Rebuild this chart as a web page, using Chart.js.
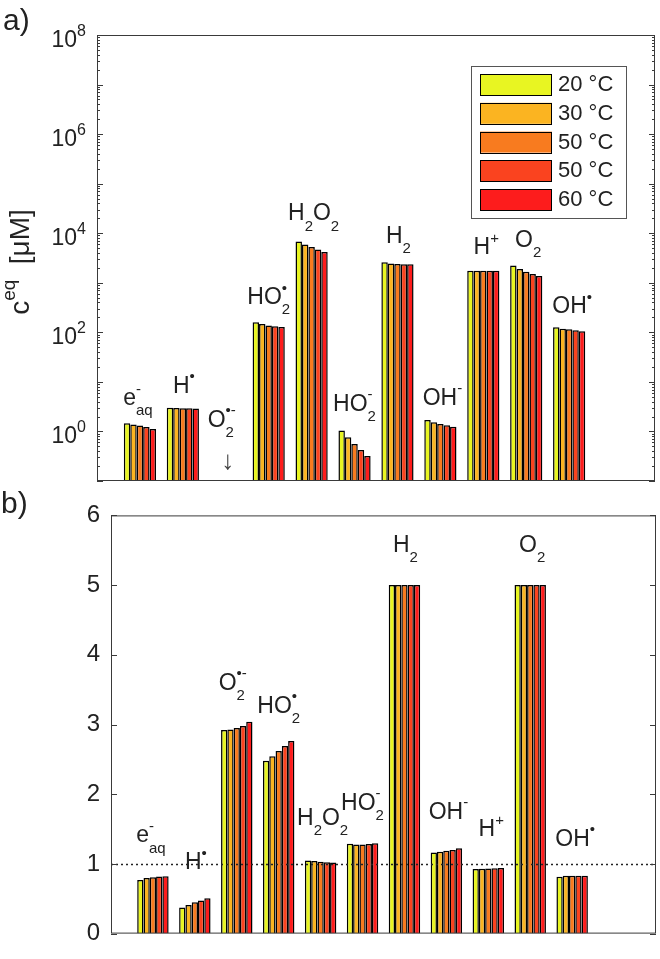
<!DOCTYPE html>
<html>
<head>
<meta charset="utf-8">
<script src="https://cdn.jsdelivr.net/npm/chart.js@4.4.1/dist/chart.umd.min.js"></script>
<style>
  body { margin: 0; background: #fff; }
  #wrap { position: relative; width: 660px; height: 959px; }
  canvas { position: absolute; left: 0; }
</style>
</head>
<body>
<div id="wrap">
  <canvas id="chartA" width="660" height="490" style="top:0"></canvas>
  <canvas id="chartB" width="660" height="469" style="top:490px"></canvas>
</div>
<script>
// species (x categories) and temperature series
const species = ["e-aq", "H•", "O2•-", "HO2•", "H2O2", "HO2-", "H2", "OH-", "H+", "O2", "OH•"];
const temps = ["20 °C", "30 °C", "50 °C", "50 °C", "60 °C"];
const colors = ["#e8f522", "#fbb421", "#f87b1f", "#fa431f", "#fd1c1c"];

// a) equilibrium concentration [uM], O2•- is below the axis
const conc20  = [1.47, 3.00, null, 160, 6840, 1.04, 2610, 1.71, 1750, 2240, 126];
const conc30  = [1.38, 2.97, null, 147, 5940, 0.76, 2460, 1.53, 1750, 1890, 118];
const conc50  = [1.32, 2.95, null, 138, 5250, 0.56, 2380, 1.42, 1750, 1670, 115];
const conc50b = [1.23, 2.93, null, 132, 4710, 0.42, 2370, 1.33, 1750, 1500, 110];
const conc60  = [1.12, 2.90, null, 128, 4160, 0.32, 2370, 1.25, 1750, 1365, 105];

// b) ratio c(5 bar) / c(1 bar)
const ratio20  = [0.77, 0.376, 2.92, 2.48, 1.05, 1.29, 5, 1.165, 0.928, 5, 0.816];
const ratio30  = [0.797, 0.41, 2.93, 2.545, 1.04, 1.28, 5, 1.175, 0.932, 5, 0.83];
const ratio50  = [0.81, 0.45, 2.95, 2.62, 1.03, 1.28, 5, 1.19, 0.935, 5, 0.83];
const ratio50b = [0.82, 0.475, 2.98, 2.69, 1.025, 1.285, 5, 1.20, 0.938, 5, 0.83];
const ratio60  = [0.824, 0.506, 3.04, 2.765, 1.02, 1.295, 5, 1.225, 0.94, 5, 0.83];

// tick labels
const expTicksA = [0, 2, 4, 6, 8];

// species label formatting: [text, subscript, superscript]
const speciesRich = [
  [["e", "aq", "-"]],
  [["H", "", "•"]],
  [["O", "2", "•-"]],
  [["HO", "2", "•"]],
  [["H", "2", ""], ["O", "2", ""]],
  [["HO", "2", "-"]],
  [["H", "2", ""]],
  [["OH", "", "-"]],
  [["H", "", "+"]],
  [["O", "2", ""]],
  [["OH", "", "•"]]
];
// label anchor heights (axis units) and small horizontal shifts
const labelYA = [3.4, 5.97, 1.25, 372, 18300, 2.6, 6400, 3.42, 3800, 5320, 245];
const labelYB = [1.31, 0.92, 3.5, 3.17, 1.56, 1.78, 5.48, 1.65, 1.40, 5.48, 1.26];
const labelDx = [-2, 1, -4, 0, 2, 0, 1, 2, 3, 2, 3];

const FONT = '"Liberation Sans", Arial, sans-serif';
const TXT = '#222';

function drawRich(ctx, parts, x, y, size, align, small) {
  small = small || Math.round(size * 0.68);
  const mf = size + 'px ' + FONT, sf = small + 'px ' + FONT;
  const w = parts.map(p => {
    ctx.font = mf; const a = ctx.measureText(p[0]).width;
    ctx.font = sf; const b = Math.max(ctx.measureText(p[1]).width, ctx.measureText(p[2]).width);
    return [a, b];
  });
  const total = w.reduce((s, v) => s + v[0] + v[1], 0);
  let cx = align === 'center' ? x - total / 2 : align === 'right' ? x - total : x;
  ctx.textAlign = 'left';
  ctx.textBaseline = 'alphabetic';
  parts.forEach((p, i) => {
    ctx.font = mf; ctx.fillText(p[0], cx, y); cx += w[i][0];
    ctx.font = sf;
    if (p[1]) ctx.fillText(p[1], cx, y + size * 0.45);
    if (p[2]) ctx.fillText(p[2], cx, y - size * 0.5);
    cx += w[i][1];
  });
}

function hline(ctx, x1, x2, y) {
  ctx.beginPath(); ctx.moveTo(x1, y); ctx.lineTo(x2, y); ctx.stroke();
}

function makeSets(series) {
  return series.map((vals, s) => ({
    label: temps[s],
    data: vals.map((v, i) => ({x: i + 1, y: v})),
    backgroundColor: colors[s],
    borderColor: '#000',
    borderWidth: 1.5,
    categoryPercentage: 0.75,
    barPercentage: 1.0
  }));
}

const panelA = {
  id: 'panelA',
  afterDatasetsDraw(chart) {
    const {ctx, chartArea: a, scales: {x, y}} = chart;
    ctx.save();
    ctx.strokeStyle = '#3a3a3a';
    ctx.lineWidth = 1;
    ctx.strokeRect(a.left + 0.5, a.top + 0.5, a.right - a.left - 1, a.bottom - a.top - 1);
    // inward log ticks on both sides
    for (let e = -1; e <= 8; e++) {
      for (let m = 1; m <= 9; m++) {
        const v = m * Math.pow(10, e);
        if (v < y.min * 0.999 || v > y.max * 1.001) continue;
        const py = Math.round(y.getPixelForValue(v)) + 0.5;
        const len = m === 1 ? 6 : 3;
        hline(ctx, a.left, a.left + len, py);
        hline(ctx, a.right - len, a.right, py);
      }
    }
    ctx.fillStyle = TXT;
    expTicksA.forEach(e => {
      const py = y.getPixelForValue(Math.pow(10, e));
      drawRich(ctx, [["10", "", String(e)]], a.left - 11, py + 12, 23, 'right', 16);
    });
    // species labels
    species.forEach((s, i) => {
      drawRich(ctx, speciesRich[i], x.getPixelForValue(i + 1) + labelDx[i], y.getPixelForValue(labelYA[i]), 23, 'center', 15);
    });
    // arrow for O2•- (below axis range)
    ctx.font = '26px ' + FONT;
    ctx.textAlign = 'center';
    ctx.textBaseline = 'middle';
    ctx.fillStyle = '#444';
    ctx.fillText('↓', x.getPixelForValue(3) + 2, y.getPixelForValue(0.243));
    // legend
    const lx = 471, ly = 66;
    ctx.fillStyle = '#fff';
    ctx.fillRect(lx, ly, 155, 152);
    ctx.strokeStyle = '#555';
    ctx.strokeRect(lx + 0.5, ly + 0.5, 155, 152);
    chart.data.datasets.forEach((ds, i) => {
      const ty = 74 + i * 28.8;
      ctx.fillStyle = ds.backgroundColor;
      ctx.fillRect(480, ty, 72, 21);
      ctx.strokeStyle = '#000';
      ctx.strokeRect(480.5, Math.round(ty) + 0.5, 71, 21);
      ctx.fillStyle = TXT;
      ctx.font = '22px ' + FONT;
      ctx.textAlign = 'left';
      ctx.textBaseline = 'middle';
      ctx.fillText(ds.label, 558, ty + 11);
    });
    // panel tag and y title
    ctx.fillStyle = TXT;
    ctx.font = '30px ' + FONT;
    ctx.textAlign = 'left';
    ctx.textBaseline = 'alphabetic';
    ctx.fillText('a)', 3, 30);
    ctx.translate(29, 262);
    ctx.rotate(-Math.PI / 2);
    drawRich(ctx, [["c", "", "eq"], ["  [μM]", "", ""]], 0, 0, 28, 'center', 19);
    ctx.restore();
  }
};

const panelB = {
  id: 'panelB',
  afterDatasetsDraw(chart) {
    const {ctx, chartArea: a, scales: {x, y}} = chart;
    ctx.save();
    // reference line at ratio 1
    ctx.strokeStyle = '#222';
    ctx.lineWidth = 1.4;
    ctx.setLineDash([2, 3]);
    hline(ctx, a.left, a.right, Math.round(y.getPixelForValue(1)) + 0.5);
    ctx.setLineDash([]);
    ctx.lineWidth = 1;
    ctx.strokeStyle = '#3a3a3a';
    ctx.strokeRect(a.left + 0.5, a.top + 0.5, a.right - a.left - 1, a.bottom - a.top - 1);
    y.ticks.forEach(t => {
      const py = Math.round(y.getPixelForValue(t.value)) + 0.5;
      hline(ctx, a.left, a.left + 6, py);
      hline(ctx, a.right - 6, a.right, py);
    });
    ctx.fillStyle = TXT;
    species.forEach((s, i) => {
      drawRich(ctx, speciesRich[i], x.getPixelForValue(i + 1) + labelDx[i], y.getPixelForValue(labelYB[i]), 23, 'center', 15);
    });
    ctx.font = '30px ' + FONT;
    ctx.textAlign = 'left';
    ctx.textBaseline = 'alphabetic';
    ctx.fillText('b)', 1, 23);
    // fraction y title
    ctx.translate(0, 722);
    ctx.rotate(-Math.PI / 2);
    ctx.save();
    ctx.translate(0, 30);
    drawRich(ctx, [["c", "", "eq"], ["(5 bar)", "", ""]], 0, 0, 30, 'center', 19);
    ctx.restore();
    ctx.save();
    ctx.translate(0, 67);
    drawRich(ctx, [["c", "", "eq"], ["(1 bar)", "", ""]], 0, 0, 30, 'center', 19);
    ctx.restore();
    ctx.strokeStyle = '#222';
    ctx.lineWidth = 1.5;
    hline(ctx, -70, 70, 39);
    ctx.restore();
  }
};

const configA = {
  type: 'bar',
  data: {datasets: makeSets([conc20, conc30, conc50, conc50b, conc60])},
  options: {
    responsive: false, animation: false, devicePixelRatio: 1,
    layout: {padding: {left: 0, top: 35, right: 5, bottom: 9}},
    plugins: {legend: {display: false}, tooltip: {enabled: false}},
    scales: {
      x: {type: 'linear', min: 0, max: 13, offset: false, display: false, ticks: {stepSize: 1}},
      y: {
        type: 'logarithmic', min: 0.1, max: 1e8,
        ticks: {display: false},
        grid: {display: false, drawTicks: false},
        border: {display: false},
        afterFit: s => { s.width = 97; }
      }
    }
  },
  plugins: [panelA]
};

const configB = {
  type: 'bar',
  data: {datasets: makeSets([ratio20, ratio30, ratio50, ratio50b, ratio60])},
  options: {
    responsive: false, animation: false, devicePixelRatio: 1,
    layout: {padding: {left: 0, top: 9, right: 4, bottom: 13}},
    plugins: {legend: {display: false}, tooltip: {enabled: false}},
    scales: {
      x: {type: 'linear', min: 0, max: 13, offset: false, display: false, ticks: {stepSize: 1}},
      y: {
        min: 0, max: 6,
        ticks: {stepSize: 1, padding: 11, color: TXT, font: {family: FONT, size: 24}},
        grid: {display: false, drawTicks: false},
        border: {display: false},
        afterFit: s => { s.width = 111; }
      }
    }
  },
  plugins: [panelB]
};

const chartA = new Chart(document.getElementById('chartA'), configA);
const chartB = new Chart(document.getElementById('chartB'), configB);
</script>
</body>
</html>
